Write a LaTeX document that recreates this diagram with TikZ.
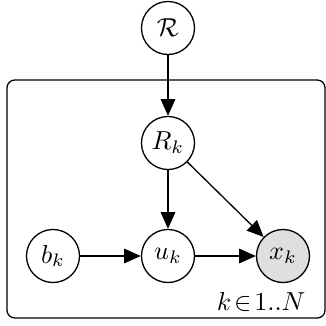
\documentclass[tikz,border=0pt]{standalone}
\usetikzlibrary{arrows.meta}
\begin{document}
\begin{tikzpicture}[x=0.3846pt,y=-0.3846pt,
  latentnode/.style={circle,draw,line width=0.5pt,minimum size=20.4pt,inner sep=0pt},
  obsnode/.style={latentnode,fill=gray!25},
  edge/.style={-{Triangle[length=6.4pt,width=5.6pt]},line width=0.5pt},
  plate/.style={draw,rounded corners=3pt,line width=0.5pt}]
\useasboundingbox (0,0) rectangle (326,326);
\draw[plate] (7,80) rectangle (325,318);
\node[latentnode] (R) at (168,28) {$\mathcal{R}$};
\node[latentnode] (Rk) at (168,143) {$R_k$};
\node[latentnode] (bk) at (53,256) {$b_k$};
\node[latentnode] (uk) at (168,256) {$u_k$};
\node[obsnode] (xk) at (283,256) {$x_k$};
\node[anchor=base east,inner sep=0pt] (lbl) at (306,310) {$k\!\in\!1..N$};
\draw[edge] (R) -- (Rk);
\draw[edge] (Rk) -- (uk);
\draw[edge] (Rk) -- (xk);
\draw[edge] (bk) -- (uk);
\draw[edge] (uk) -- (xk);
\end{tikzpicture}
\end{document}
